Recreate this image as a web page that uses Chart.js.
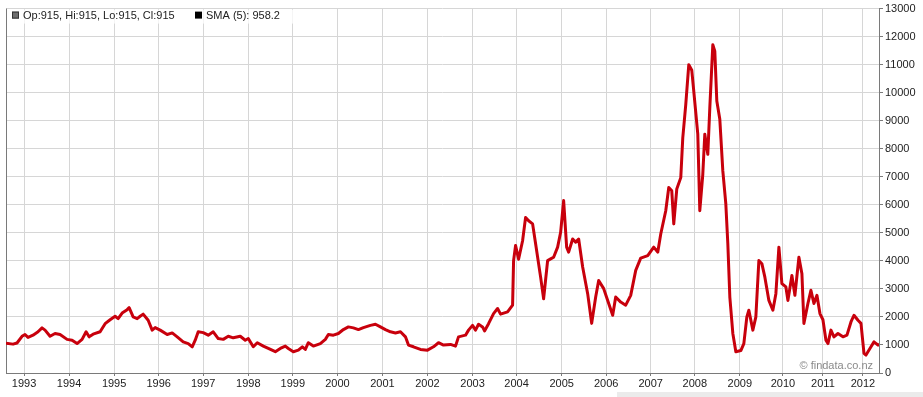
<!DOCTYPE html>
<html>
<head>
<meta charset="utf-8">
<title>Price chart 1993-2012</title>
<script src="https://cdn.jsdelivr.net/npm/chart.js"></script>
<style>
  html, body { margin: 0; padding: 0; background: #fff; }
  #wrap { width: 923px; height: 397px; position: relative; }
</style>
</head>
<body>
<div id="wrap"><canvas id="price-chart"></canvas></div>
<script>
// Year labels and where they sit on the session axis
const years = ['1993', '1994', '1995', '1996', '1997', '1998', '1999', '2000', '2001', '2002',
               '2003', '2004', '2005', '2006', '2007', '2008', '2009', '2010', '2011', '2012'];
const yearSteps = [18, 63, 108, 152.5, 197, 242, 286.5, 331, 376, 421,
                   466, 510, 555, 599.5, 644, 688, 733, 776, 816, 856];

// Close prices (session position, close)
const steps = [
  0, 7, 11, 16, 19, 22, 27, 32, 36, 39,
  44, 49, 54, 61, 66, 71, 76, 80, 83, 87,
  94, 99, 104, 109, 112, 116, 121, 123, 127, 131,
  134, 137, 142, 146, 149, 154, 161, 166, 171, 177,
  182, 186, 189, 192, 197, 202, 207, 212, 217, 222,
  227, 234, 239, 242, 247, 251, 257, 262, 269, 274,
  279, 282, 287, 292, 296, 299, 302, 307, 314, 319,
  322, 327, 332, 337, 342, 347, 352, 357, 364, 369,
  374, 379, 384, 389, 394, 399, 402, 407, 414, 421,
  427, 432, 437, 444, 449, 452,
  459, 462, 466, 469, 472, 476, 478, 482, 487, 491,
  494, 501, 506, 507, 509, 512, 516, 519, 522, 526,
  529, 534, 537, 541, 544, 547, 551, 554, 557, 560,
  562, 566, 569, 572, 576, 581, 585, 589, 592, 597,
  601, 606, 609, 614, 619, 624, 629, 634,
  641, 647, 651, 654, 659, 662, 665, 667, 670, 674,
  676, 679, 682, 685, 687, 691, 693, 696, 698, 701,
  703, 706, 708, 710, 713, 716, 719, 721, 723, 726,
  729, 734, 737, 740, 742, 746, 749,
  752, 755, 758, 762, 766, 769, 772, 775, 779, 781,
  785, 788, 792, 795, 797, 801, 804, 807, 810, 813,
  816, 819, 821, 824, 827, 831, 836, 840, 844, 847,
  851, 854, 857, 859, 864, 867, 871, 872
];
const closes = [
  1060, 1030, 1070, 1310, 1375, 1270, 1350, 1470, 1610, 1530,
  1310, 1410, 1375, 1200, 1170, 1050, 1200, 1470, 1290, 1385,
  1470, 1760, 1900, 2025, 1940, 2140, 2260, 2330, 2000, 1940,
  2025, 2100, 1880, 1530, 1620, 1530, 1375, 1430, 1290, 1110,
  1050, 935, 1170, 1470, 1440, 1350, 1470, 1230, 1200, 1310,
  1255, 1310, 1170, 1230, 935, 1080, 960, 875, 760, 875,
  960, 875, 760, 815, 935, 840, 1080, 960, 1050, 1200,
  1375, 1350, 1410, 1550, 1645, 1610, 1550, 1620, 1700, 1740,
  1645, 1550, 1470, 1430, 1470, 1290, 995, 935, 840, 815,
  935, 1080, 995, 1020, 960, 1290,
  1350, 1530, 1700, 1530, 1740, 1645, 1500, 1760, 2120, 2300,
  2100, 2180, 2420, 4010, 4550, 4060, 4720, 5550, 5430, 5320,
  4610, 3420, 2650, 4010, 4070, 4130, 4490, 5020, 6150, 4490,
  4310, 4780, 4670, 4780, 3780, 2830, 1770, 2710, 3300, 3010,
  2590, 2060, 2710, 2530, 2420, 2770, 3660, 4100,
  4190, 4490, 4310, 4960, 5790, 6620, 6500, 5320, 6560, 6970,
  8390, 9580, 11000, 10800, 10050, 8520, 5790, 7090, 8520, 7800,
  9460, 11710, 11480, 9700, 9050, 7210, 6030, 4610, 2710, 1410,
  760, 800, 1050, 2000, 2240, 1530, 2000,
  4010, 3900, 3420, 2590, 2240, 2830, 4490, 3190, 3070, 2590,
  3480, 2770, 4130, 3540, 1770, 2480, 2950, 2480, 2770, 2120,
  1900, 1170, 1050, 1530, 1290, 1410, 1290, 1350, 1820, 2060,
  1880, 1770, 700, 640, 935, 1110, 995, 1050
];

// Legend read-outs at the last bar
const ohlcText = 'Op:915, Hi:915, Lo:915, Cl:915';
const smaText = 'SMA (5): 958.2';

const points = steps.map((s, i) => ({ x: s, y: closes[i] }));

Chart.defaults.font.family = "'Liberation Sans', Arial, sans-serif";
Chart.defaults.font.size = 11;
Chart.defaults.color = '#222';

const frameColor = '#7a7a7a';
const gridColor = '#d6d6d6';

// Draws the frame line, legend strip, watermark and the grey strip at the bottom
const decorations = {
    id: 'decorations',
    beforeDatasetsDraw(chart) {
        const ctx = chart.ctx;
        const area = chart.chartArea;
        ctx.save();
        ctx.strokeStyle = frameColor;
        ctx.lineWidth = 1;
        ctx.beginPath();
        ctx.moveTo(area.left + 0.5, area.top);
        ctx.lineTo(area.left + 0.5, area.bottom);
        ctx.stroke();

        ctx.fillStyle = '#8a8a8a';
        ctx.font = "11px 'Liberation Sans', Arial, sans-serif";
        ctx.textAlign = 'right';
        ctx.textBaseline = 'middle';
        ctx.fillText('\u00a9 findata.co.nz', area.right - 6, area.bottom - 7);
        ctx.restore();
    },
    afterDraw(chart) {
        const ctx = chart.ctx;
        const area = chart.chartArea;
        ctx.save();
        // legend strip
        ctx.fillStyle = 'rgba(255,255,255,0.75)';
        ctx.fillRect(area.left + 1, area.top + 1, 300, 14);

        ctx.fillStyle = '#6e6e6e';
        ctx.fillRect(area.left + 6, area.top + 3, 7, 7);
        ctx.strokeStyle = '#333';
        ctx.strokeRect(area.left + 6.5, area.top + 3.5, 6, 6);
        ctx.fillStyle = '#000';
        ctx.fillRect(area.left + 189, area.top + 3, 7, 7);

        ctx.fillStyle = '#222';
        ctx.font = "11px 'Liberation Sans', Arial, sans-serif";
        ctx.textAlign = 'left';
        ctx.textBaseline = 'middle';
        ctx.fillText(ohlcText, area.left + 17, area.top + 7);
        ctx.fillText(smaText, area.left + 200, area.top + 7);

        // grey strip along the bottom edge
        ctx.fillStyle = '#ebebeb';
        ctx.fillRect(617, chart.height - 5, chart.width - 617, 5);
        ctx.restore();
    }
};

new Chart(document.getElementById('price-chart'), {
    type: 'line',
    data: {
        datasets: [{
            label: 'Close',
            data: points,
            borderColor: 'rgb(200, 0, 12)',
            borderWidth: 3,
            borderJoinStyle: 'round',
            pointRadius: 0,
            tension: 0,
            fill: false
        }]
    },
    options: {
        responsive: true,
        maintainAspectRatio: false,
        animation: false,
        layout: { padding: { left: 6, top: 7, right: 0, bottom: 0 } },
        plugins: {
            legend: { display: false },
            tooltip: { enabled: false }
        },
        scales: {
            x: {
                type: 'linear',
                min: 0,
                max: 872,
                afterBuildTicks: scale => {
                    scale.ticks = yearSteps.map(v => ({ value: v }));
                },
                afterFit: scale => { scale.height = 24; },
                ticks: {
                    autoSkip: false,
                    maxRotation: 0,
                    padding: 1,
                    color: '#222',
                    callback: (value, index) => years[index]
                },
                grid: {
                    color: gridColor,
                    tickColor: frameColor,
                    tickLength: 3
                },
                border: { color: frameColor }
            },
            y: {
                position: 'right',
                min: 0,
                max: 13000,
                afterFit: scale => { scale.width = 44; },
                ticks: {
                    stepSize: 1000,
                    padding: 2,
                    color: '#222',
                    callback: value => String(value)
                },
                grid: {
                    color: gridColor,
                    tickColor: frameColor,
                    tickLength: 4
                },
                border: { color: frameColor }
            }
        }
    },
    plugins: [decorations]
});
</script>
</body>
</html>
